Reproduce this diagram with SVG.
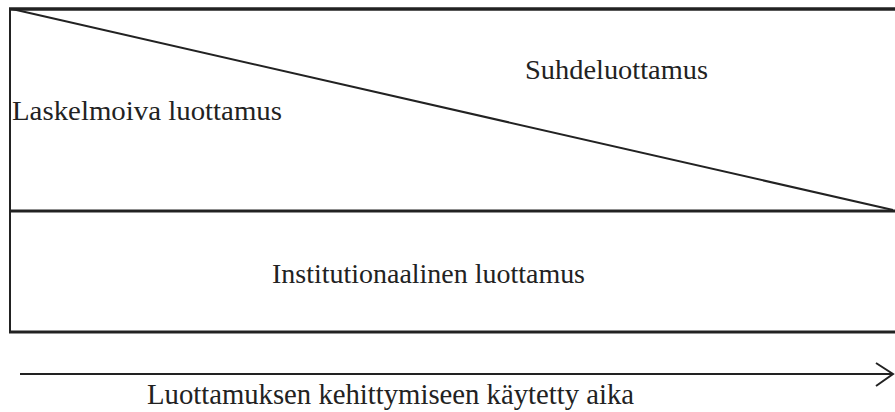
<svg xmlns="http://www.w3.org/2000/svg" width="895" height="412" viewBox="0 0 895 412">
<style>
.t{font-family:"Liberation Serif","Times New Roman",serif;font-size:28px;fill:#222}
.l{stroke:#222;fill:none}
</style>
<rect width="895" height="412" fill="#fff"/>
<g id="connectors">
<line class="l" x1="9" y1="9" x2="895" y2="9" stroke-width="3.5"/>
<line class="l" x1="10" y1="8" x2="10" y2="333" stroke-width="2"/>
<line class="l" x1="9" y1="211" x2="895" y2="211" stroke-width="3"/>
<line class="l" x1="9" y1="332" x2="895" y2="332" stroke-width="3"/>
<line class="l" x1="12" y1="9" x2="893" y2="210" stroke-width="2"/>
<line class="l" x1="20" y1="374" x2="892" y2="374" stroke-width="2"/>
<polyline class="l" points="876,363 893,374 876,386" stroke-width="2"/>
</g>
<g id="laskelmoiva"><text class="t" x="12" y="120" textLength="270" lengthAdjust="spacingAndGlyphs">Laskelmoiva luottamus</text></g>
<g id="suhde"><text class="t" x="525" y="79" textLength="183" lengthAdjust="spacingAndGlyphs">Suhdeluottamus</text></g>
<g id="institutionaalinen"><text class="t" x="272" y="283" textLength="313" lengthAdjust="spacingAndGlyphs">Institutionaalinen luottamus</text></g>
<g id="aika"><text class="t" x="147" y="404" style="font-size:30px" textLength="487" lengthAdjust="spacingAndGlyphs">Luottamuksen kehittymiseen käytetty aika</text></g>
</svg>
